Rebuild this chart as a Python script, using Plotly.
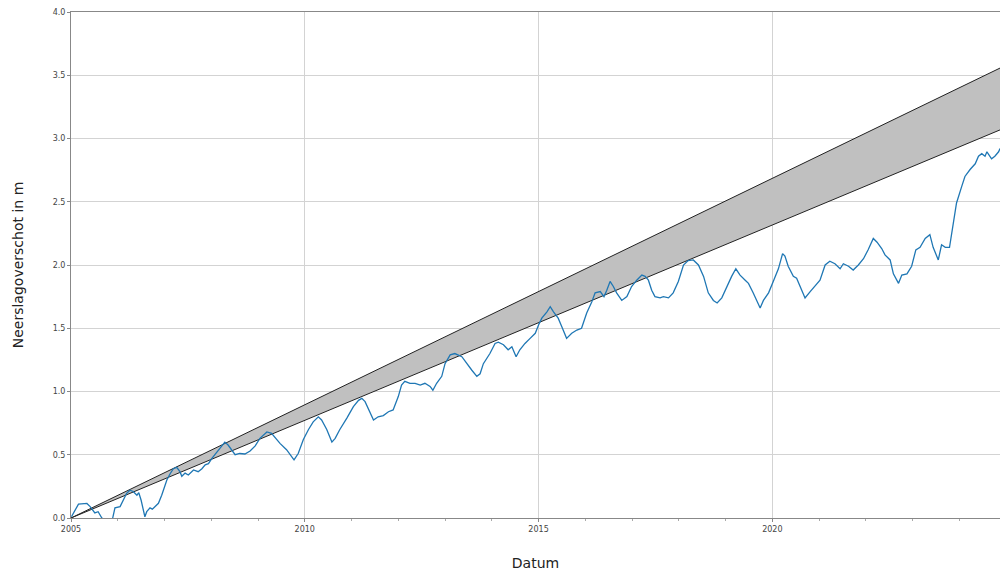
import plotly.graph_objects as go

# Cumulative precipitation surplus (m) vs decimal year
years = [2005.01, 2005.16, 2005.34, 2005.41, 2005.51, 2005.58, 2005.66, 2005.75, 2005.88, 2005.94,
         2006.05, 2006.12, 2006.19, 2006.26, 2006.33, 2006.41, 2006.45, 2006.50, 2006.55, 2006.58,
         2006.62, 2006.69, 2006.74, 2006.80, 2006.87, 2006.94, 2007.01, 2007.05, 2007.12, 2007.19,
         2007.26, 2007.33, 2007.37, 2007.44, 2007.51, 2007.62, 2007.72, 2007.80, 2007.87, 2007.94,
         2008.01, 2008.12, 2008.22, 2008.29, 2008.36, 2008.44, 2008.51, 2008.61, 2008.72, 2008.83,
         2008.94, 2009.04, 2009.19, 2009.29, 2009.36, 2009.47, 2009.61, 2009.72, 2009.77, 2009.86,
         2009.97, 2010.08, 2010.18, 2010.29, 2010.36, 2010.47, 2010.58, 2010.65, 2010.75, 2010.90,
         2011.04, 2011.15, 2011.22, 2011.29, 2011.40, 2011.47, 2011.57, 2011.68, 2011.79, 2011.89,
         2012.00, 2012.07, 2012.14, 2012.25, 2012.36, 2012.47, 2012.57, 2012.68, 2012.74, 2012.82,
         2012.93, 2013.00, 2013.11, 2013.21, 2013.36, 2013.46, 2013.57, 2013.68, 2013.75, 2013.82,
         2013.96, 2014.07, 2014.14, 2014.25, 2014.35, 2014.43, 2014.52, 2014.60, 2014.71, 2014.82,
         2014.93, 2015.00, 2015.07, 2015.18, 2015.25, 2015.32, 2015.42, 2015.50, 2015.60, 2015.71,
         2015.82, 2015.92, 2016.03, 2016.14, 2016.21, 2016.32, 2016.40, 2016.46, 2016.53, 2016.60,
         2016.67, 2016.78, 2016.89, 2016.99, 2017.10, 2017.21, 2017.28, 2017.35, 2017.42, 2017.49,
         2017.60, 2017.67, 2017.78, 2017.88, 2017.99, 2018.10, 2018.20, 2018.31, 2018.42, 2018.53,
         2018.63, 2018.74, 2018.82, 2018.92, 2019.03, 2019.13, 2019.22, 2019.31, 2019.42, 2019.49,
         2019.59, 2019.70, 2019.74, 2019.81, 2019.92, 2020.02, 2020.13, 2020.22, 2020.27, 2020.34,
         2020.45, 2020.52, 2020.59, 2020.70, 2020.81, 2020.91, 2021.02, 2021.13, 2021.23, 2021.34,
         2021.45, 2021.52, 2021.63, 2021.73, 2021.84, 2021.95, 2022.05, 2022.16, 2022.24, 2022.34,
         2022.41, 2022.52, 2022.59, 2022.70, 2022.77, 2022.88, 2022.98, 2023.07, 2023.16, 2023.27,
         2023.37, 2023.44, 2023.55, 2023.62, 2023.70, 2023.79, 2023.87, 2023.94, 2024.05, 2024.12,
         2024.23, 2024.34, 2024.41, 2024.48, 2024.55, 2024.59, 2024.69, 2024.76, 2024.84, 2024.87]
surplus = [0.01, 0.11, 0.115, 0.09, 0.04, 0.05, 0.0, -0.03, -0.02, 0.08,
           0.09, 0.14, 0.195, 0.22, 0.21, 0.18, 0.20, 0.14, 0.06, 0.01,
           0.05, 0.08, 0.07, 0.09, 0.116, 0.18, 0.25, 0.30, 0.35, 0.39,
           0.40, 0.366, 0.33, 0.355, 0.34, 0.38, 0.366, 0.39, 0.42, 0.43,
           0.47, 0.52, 0.56, 0.60, 0.577, 0.54, 0.50, 0.51, 0.506, 0.53,
           0.57, 0.63, 0.68, 0.67, 0.64, 0.59, 0.54, 0.485, 0.46, 0.51,
           0.62, 0.70, 0.76, 0.80, 0.775, 0.70, 0.60, 0.63, 0.70, 0.79,
           0.88, 0.93, 0.946, 0.92, 0.83, 0.775, 0.80, 0.81, 0.84, 0.854,
           0.96, 1.05, 1.08, 1.065, 1.065, 1.05, 1.065, 1.04, 1.01, 1.065,
           1.12, 1.22, 1.29, 1.30, 1.275, 1.22, 1.17, 1.12, 1.14, 1.22,
           1.30, 1.38, 1.39, 1.37, 1.33, 1.354, 1.275, 1.33, 1.38, 1.42,
           1.46, 1.525, 1.58, 1.63, 1.67, 1.63, 1.58, 1.51, 1.42, 1.46,
           1.486, 1.50, 1.62, 1.71, 1.78, 1.79, 1.75, 1.80, 1.87, 1.83,
           1.78, 1.72, 1.75, 1.83, 1.88, 1.92, 1.91, 1.88, 1.80, 1.75,
           1.74, 1.75, 1.74, 1.78, 1.87, 2.00, 2.035, 2.04, 2.00, 1.91,
           1.78, 1.72, 1.70, 1.74, 1.83, 1.91, 1.97, 1.92, 1.88, 1.855,
           1.78, 1.70, 1.66, 1.72, 1.78, 1.87, 1.97, 2.09, 2.07, 1.99,
           1.91, 1.895, 1.83, 1.74, 1.79, 1.83, 1.88, 2.00, 2.03, 2.01,
           1.97, 2.01, 1.99, 1.96, 2.00, 2.05, 2.12, 2.21, 2.18, 2.13,
           2.08, 2.04, 1.93, 1.855, 1.92, 1.93, 1.99, 2.12, 2.14, 2.21,
           2.24, 2.14, 2.04, 2.16, 2.14, 2.14, 2.33, 2.49, 2.62, 2.70,
           2.755, 2.80, 2.86, 2.88, 2.86, 2.895, 2.84, 2.86, 2.895, 2.92]

# Reference band (linear)
band_years = [2005.0, 2025.0]
band_upper = [0.0, 3.58]
band_lower = [0.0, 3.088]

x_ticks = [2005, 2010, 2015, 2020]
y_ticks = [0.0, 0.5, 1.0, 1.5, 2.0, 2.5, 3.0, 3.5, 4.0]

fig = go.Figure()
fig.add_trace(go.Scatter(x=band_years, y=band_lower, mode="lines",
                         line=dict(color="#222222", width=1), showlegend=False, hoverinfo="skip"))
fig.add_trace(go.Scatter(x=band_years, y=band_upper, mode="lines", fill="tonexty",
                         fillcolor="#c0c0c0",
                         line=dict(color="#222222", width=1), showlegend=False, hoverinfo="skip"))
fig.add_trace(go.Scatter(x=years, y=surplus, mode="lines",
                         line=dict(color="#1f77b4", width=1.3), showlegend=False))

fig.update_layout(
    width=1000, height=573,
    margin=dict(l=71, r=0, t=12, b=55),
    plot_bgcolor="white", paper_bgcolor="white",
    font=dict(family="DejaVu Sans", color="#333333"),
    xaxis=dict(
        range=[2005.0, 2024.87],
        tickvals=x_ticks, ticktext=[str(t) for t in x_ticks],
        tickfont=dict(size=8, color="#444444"),
        ticks="outside", ticklen=3, tickcolor="#888888",
        showgrid=True, gridcolor="#d3d3d3", gridwidth=1,
        showline=True, linecolor="#888888", linewidth=1, mirror=True,
        zeroline=False,
        minor=dict(dtick=1, tick0=2005, ticks="outside", ticklen=2, tickcolor="#aaaaaa", showgrid=False),
        title=dict(text="Datum", font=dict(size=14, color="#222222"), standoff=25),
    ),
    yaxis=dict(
        range=[0, 4.0],
        tickvals=y_ticks, ticktext=[f"{v:.1f}" for v in y_ticks],
        tickfont=dict(size=8, color="#444444"),
        ticks="outside", ticklen=3, tickcolor="#888888",
        showgrid=True, gridcolor="#d3d3d3", gridwidth=1,
        showline=True, linecolor="#888888", linewidth=1, mirror=False,
        zeroline=False,
        title=dict(text="Neerslagoverschot in m", font=dict(size=14, color="#222222"), standoff=25),
    ),
)

fig.write_html("out.html", config={"displayModeBar": False},
               post_script="document.body.style.margin='0';document.body.style.overflow='hidden';")
